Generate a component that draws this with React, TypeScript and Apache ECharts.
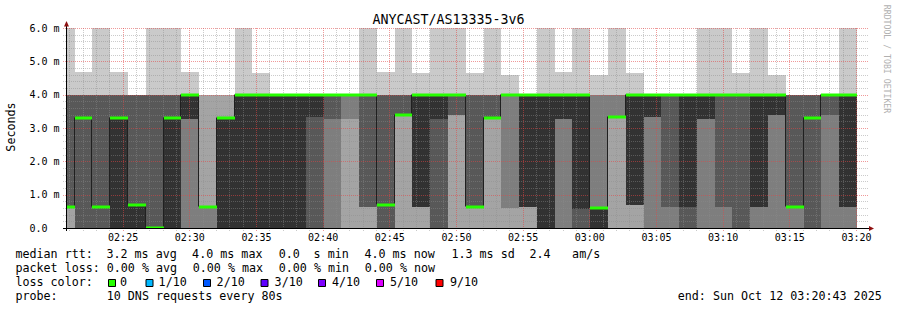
import React, { useEffect, useRef } from 'react';
import * as echarts from 'echarts';

const title = 'ANYCAST/AS13335-3v6';
const yAxisName = 'Seconds';
const watermark = 'RRDTOOL / TOBI OETIKER';

const stepSeconds = 80;
const firstColumnStart = '02:20:00';
const axisStart = '02:20:43';
const axisEnd = '03:20:43';
const majorGridStep = 300;
const minorGridStep = 60;

const xTickLabels = ['02:25', '02:30', '02:35', '02:40', '02:45', '02:50', '02:55', '03:00', '03:05', '03:10', '03:15', '03:20'];
const yTickLabels = ['0.0', '1.0 m', '2.0 m', '3.0 m', '4.0 m', '5.0 m', '6.0 m'];
const yMax = 6;

// sorted ping round-trip times (ms) per 80 s step, rank 1 (fastest) .. rank 10 (slowest)
const ping1 = [0, 0, 0, 0, 0, 0, 0, 0, 0, 0, 0, 0, 0, 0, 0, 0, 0, 0, 0, 0, 0, 0, 0, 0, 0, 0, 0, 0, 0, 0, 0, 0, 0, 0, 0, 0, 0, 0, 0, 0, 0, 0, 0, 0, 0];
const ping2 = [0, 0, 0, 0, 0, 0, 0, 0, 0, 0, 0, 0, 0, 0, 0, 0, 0, 0, 0, 0, 0, 0, 0, 0, 0, 0, 0, 0, 0, 0, 0, 0, 0, 0, 0, 0, 0, 0, 0, 0, 0, 0, 0, 0, 0];
const ping3 = [0.64, 0, 0, 0, 0, 0, 0, 0, 0, 0, 0, 0, 0, 0, 0, 0, 3.27, 0.64, 0, 3.39, 0.64, 0, 3.39, 0.64, 3.29, 0.59, 0.64, 0, 0, 0, 0, 3.32, 0.69, 0, 0, 0, 0, 0, 0, 0, 0, 0, 0, 0, 0];
const ping4 = [0.64, 0, 0, 0, 0, 0, 0, 3.27, 0.64, 0, 0, 0, 0, 0, 0, 3.27, 4, 0.64, 0, 3.39, 0.64, 0, 3.39, 0.64, 3.29, 4, 0.64, 0, 3.27, 0, 0, 3.32, 0.69, 3.34, 0.64, 0, 3.27, 0.64, 0, 0.64, 3.39, 0.64, 0, 3.39, 0.64];
const ping5 = [0.64, 3.29, 0.64, 0, 0, 0, 0, 3.27, 0.64, 0, 0, 0, 0, 0, 3.34, 4, 4, 4, 0.69, 3.39, 0.64, 3.27, 4, 0.64, 3.29, 4, 0.64, 0, 3.27, 0.57, 0, 3.32, 0.69, 3.34, 4, 0.64, 3.27, 4, 4, 0.64, 3.39, 0.64, 3.29, 4, 0.64];
const ping6 = [0.64, 3.29, 0.64, 3.29, 0.69, 0, 3.29, 4, 0.64, 3.29, 4, 4, 4, 4, 4, 4, 4, 4, 0.69, 3.39, 4, 4, 4, 0.64, 3.29, 4, 4, 4, 4, 4, 0.6, 3.32, 4, 4, 4, 4, 4, 4, 4, 4, 4, 0.64, 3.29, 4, 4];
const ping7 = [4, 4, 4, 4, 4, 4, 4, 4, 0.64, 3.29, 4, 4, 4, 4, 4, 4, 4, 4, 4, 4, 4, 4, 4, 4, 4, 4, 4, 4, 4, 4, 0.6, 3.32, 4, 4, 4, 4, 4, 4, 4, 4, 4, 4, 4, 4, 4];
const ping8 = [4, 4, 4, 4, 4, 4, 4, 4, 0.64, 3.29, 4, 4, 4, 4, 4, 4, 4, 4, 4, 4, 4, 4, 4, 4, 4, 4, 4, 4, 4, 4, 4, 4, 4, 4, 4, 4, 4, 4, 4, 4, 4, 4, 4, 4, 4];
const ping9 = [4, 4, 4, 4, 4, 4, 4, 4, 4, 4, 4, 4, 4, 4, 4, 4, 4, 4, 4, 4, 4, 4, 4, 4, 4, 4, 4, 4, 4, 4, 4, 4, 4, 4, 4, 4, 4, 4, 4, 4, 4, 4, 4, 4, 4];
const ping10 = [6.5, 4.69, 6.5, 4.69, 4, 6.5, 6.5, 4.69, 4, 4, 6.5, 4.64, 4, 4, 4, 4, 4, 6.5, 4.69, 6.5, 4.66, 6.5, 6.5, 4.66, 6.5, 4.59, 4, 6.5, 4.69, 6.5, 4.59, 6.5, 4.66, 4, 4, 4, 6.5, 6.5, 4.64, 6.5, 4.59, 4, 4, 4, 6.5];
const median = [0.64, 3.29, 0.64, 3.29, 0.69, 0, 3.29, 4, 0.64, 3.29, 4, 4, 4, 4, 4, 4, 4, 4, 0.69, 3.39, 4, 4, 4, 0.64, 3.29, 4, 4, 4, 4, 4, 0.6, 3.32, 4, 4, 4, 4, 4, 4, 4, 4, 4, 0.64, 3.29, 4, 4];
const lostPings = [0, 0, 0, 0, 0, 0, 0, 0, 0, 0, 0, 0, 0, 0, 0, 0, 0, 0, 0, 0, 0, 0, 0, 0, 0, 0, 0, 0, 0, 0, 0, 0, 0, 0, 0, 0, 0, 0, 0, 0, 0, 0, 0, 0, 0];

const lossLevels = [0, 1, 2, 3, 4, 5, 9];
const lossLabels = ['0', '1/10', '2/10', '3/10', '4/10', '5/10', '9/10'];
const lossColors = ['#26ff00', '#00b8ff', '#0059ff', '#5e00ff', '#7e00ff', '#dd00ff', '#ff0000'];
const smokeColors = ['#cacaca', '#a4a4a4', '#7e7e7e', '#585858', '#323232'];

const MONO = 'DejaVu Sans Mono';

const toSec = (s: string) => {
  const [h, m, sec] = s.split(':');
  return Number(h) * 3600 + Number(m) * 60 + Number(sec || 0);
};
const pad = (n: number) => (n < 10 ? '0' : '') + n;
const fmtTime = (v: number) => pad(Math.floor(v / 3600)) + ':' + pad(Math.floor((v % 3600) / 60));

const xMin = toSec(axisStart);
const xMax = toSec(axisEnd);
const t0 = toSec(firstColumnStart);
const xTickValues = xTickLabels.map(toSec);
const pings = [ping1, ping2, ping3, ping4, ping5, ping6, ping7, ping8, ping9, ping10];

const smokeData = median.map((_, k) => [t0 + k * stepSeconds, t0 + (k + 1) * stepSeconds, ...pings.map((p) => p[k])]);
const medianData = median.map((m, k) => [t0 + k * stepSeconds, t0 + (k + 1) * stepSeconds, m, k > 0 ? median[k - 1] : m]);
const lossData = median.map((m, k) => {
  let idx = 0;
  lossLevels.forEach((lv, i) => { if (lostPings[k] >= lv) idx = i; });
  return [t0 + k * stepSeconds, t0 + (k + 1) * stepSeconds, m, idx];
});

// grid lines: [x, y, orientation (0 vertical, 1 horizontal), major]
const gridData: number[][] = [];
for (let t = Math.ceil(xMin / minorGridStep) * minorGridStep; t <= xMax; t += minorGridStep) {
  gridData.push([t, 0, 0, t % majorGridStep === 0 ? 1 : 0]);
}
for (let j = 1; j <= yMax * 5; j++) gridData.push([xMin, j / 5, 1, j % 5 === 0 ? 1 : 0]);

const pxCol = (api: any, t: number) => Math.ceil(api.coord([Math.min(Math.max(t, xMin), xMax), 0])[0] - 1e-6);

const gridSeries = (name: string, major: number, stroke: string) => ({
  type: 'custom',
  name,
  z: 3,
  silent: true,
  data: gridData.filter((d) => d[3] === major),
  encode: { x: 0, y: 1 },
  renderItem: (params: any, api: any) => {
    const cs = params.coordSys;
    const style = { stroke, lineWidth: 1, lineDash: [1, 1] };
    if (api.value(2) === 0) {
      const x = Math.floor(api.coord([api.value(0), 0])[0]) + 0.5;
      return { type: 'line', shape: { x1: x, y1: cs.y, x2: x, y2: cs.y + cs.height + 3 }, style };
    }
    const y = Math.round(api.coord([xMin, api.value(1)])[1]) + 0.5;
    return { type: 'line', shape: { x1: cs.x - 3, y1: y, x2: cs.x + cs.width + 3, y2: y }, style };
  },
});

const option: any = {
  animation: false,
  backgroundColor: '#ffffff',
  grid: { left: 66, top: 28, width: 800, height: 200, containLabel: false },
  xAxis: {
    type: 'value',
    min: xMin,
    max: xMax,
    axisLine: { show: false },
    axisTick: { show: false },
    splitLine: { show: false },
    axisLabel: {
      customValues: xTickValues,
      formatter: (v: number) => {
        const i = xTickValues.indexOf(v);
        return i >= 0 ? xTickLabels[i] : fmtTime(v);
      },
      fontFamily: MONO,
      fontSize: 10,
      color: '#000',
      margin: 4,
    },
  },
  yAxis: {
    type: 'value',
    min: 0,
    max: yMax,
    interval: 1,
    axisLine: { show: false },
    axisTick: { show: false },
    splitLine: { show: false },
    axisLabel: {
      formatter: (v: number) => yTickLabels[Math.round(v)] ?? String(v),
      fontFamily: MONO,
      fontSize: 10,
      color: '#000',
      align: 'left',
      margin: 36.6,
    },
  },
  graphic: [
    { type: 'text', x: 448.5, y: 19.7, style: { text: title, fill: '#000', fontFamily: MONO, fontSize: 13.3, align: 'center', verticalAlign: 'middle' } },
    { type: 'text', x: 10.5, y: 127, rotation: Math.PI / 2, style: { text: yAxisName, fill: '#000', fontFamily: MONO, fontSize: 11.7, align: 'center', verticalAlign: 'middle' } },
    { type: 'text', x: 887, y: 59, rotation: -Math.PI / 2, style: { text: watermark, fill: '#b0b0b0', fontFamily: MONO, fontSize: 8.2, align: 'center', verticalAlign: 'middle' } },
    ...([
      ['median rtt:', 15.4, 254.3], ['3.2 ms avg', 106.4, 254.3], ['4.0 ms max', 192.1, 254.3], ['0.0', 278.7, 254.3], ['s min', 313.6, 254.3],
      ['4.0 ms now', 364.4, 254.3], ['1.3 ms sd', 451.4, 254.3], ['2.4', 529.4, 254.3], ['am/s', 572.1, 254.3],
      ['packet loss:', 15.4, 268.3], ['0.00 % avg', 106.7, 268.3], ['0.00 % max', 192.7, 268.3], ['0.00 % min', 278.7, 268.3], ['0.00 % now', 364.7, 268.3],
      ['loss color:', 15.4, 282.2],
      ['probe:', 15.4, 296.2], ['10 DNS requests every 80s', 106.7, 296.2],
      ['end: Sun Oct 12 03:20:43 2025', 677.7, 296.2],
    ] as [string, number, number][]).map(([text, x, y]) => ({
      type: 'text', x, y, style: { text, fill: '#000', fontFamily: MONO, fontSize: 11.7, align: 'left', verticalAlign: 'middle' },
    })),
    ...lossLabels.map((lab, i) => {
      const boxX = [108.5, 146, 203.5, 261, 318.5, 376.5, 436][i];
      const txtX = [120, 158.6, 216.6, 274.6, 332, 390, 450][i];
      return [
        { type: 'rect', shape: { x: boxX, y: 279.5, width: 7, height: 7 }, style: { fill: lossColors[i], stroke: '#000', lineWidth: 1 } },
        { type: 'text', x: txtX, y: 282.2, style: { text: lab, fill: '#000', fontFamily: MONO, fontSize: 11.7, align: 'left', verticalAlign: 'middle' } },
      ];
    }).flat(),
  ],
  series: [
    {
      type: 'custom',
      name: 'smoke',
      z: 2,
      data: smokeData,
      encode: { x: [0, 1], y: [2, 3, 4, 5, 6, 7, 8, 9, 10, 11] },
      renderItem: (params: any, api: any) => {
        const xa = pxCol(api, api.value(0));
        const xb = pxCol(api, api.value(1));
        const children: any[] = [];
        for (let i = 0; i < 5; i++) {
          const lo = Math.min(api.value(2 + i), yMax);
          const hi = Math.min(api.value(11 - i), yMax);
          if (hi <= lo) continue;
          const ya = Math.round(api.coord([xMin, hi])[1]);
          const yb = Math.round(api.coord([xMin, lo])[1]);
          children.push({ type: 'rect', shape: { x: xa, y: ya, width: xb - xa, height: yb - ya }, style: { fill: smokeColors[i] } });
        }
        return { type: 'group', children };
      },
    },
    gridSeries('grid minor', 0, 'rgba(140,140,140,0.45)'),
    gridSeries('grid major', 1, 'rgba(225,70,70,0.55)'),
    {
      type: 'custom',
      name: 'median line',
      z: 4,
      data: medianData,
      encode: { x: [0, 1], y: 2 },
      renderItem: (params: any, api: any) => {
        const x0 = pxCol(api, api.value(0));
        const x1 = pxCol(api, api.value(1));
        const y = Math.round(api.coord([xMin, api.value(2)])[1]) - 0.5;
        const yp = Math.round(api.coord([xMin, api.value(3)])[1]) - 0.5;
        const style = { stroke: '#202020', lineWidth: 1 };
        const children: any[] = [{ type: 'line', shape: { x1: x0, y1: y, x2: x1, y2: y }, style }];
        if (yp !== y) children.push({ type: 'line', shape: { x1: x0 - 0.5, y1: yp, x2: x0 - 0.5, y2: y }, style });
        return { type: 'group', children };
      },
    },
    {
      type: 'custom',
      name: 'median',
      z: 5,
      data: lossData,
      encode: { x: [0, 1], y: 2 },
      renderItem: (params: any, api: any) => {
        const cs = params.coordSys;
        const x0 = pxCol(api, api.value(0));
        const x1 = pxCol(api, api.value(1));
        const y = Math.round(api.coord([xMin, api.value(2)])[1]);
        const top = y - 1.5;
        const bottom = Math.min(y + 1.5, cs.y + cs.height);
        return { type: 'rect', shape: { x: x0, y: top, width: x1 - x0, height: bottom - top }, style: { fill: lossColors[api.value(3)] } };
      },
    },
    {
      type: 'custom',
      name: 'frame',
      z: 6,
      data: [[xMin, 0]],
      encode: { x: 0, y: 1 },
      renderItem: (params: any) => {
        const cs = params.coordSys;
        const bottom = cs.y + cs.height;
        const left = cs.x;
        const right = cs.x + cs.width;
        return {
          type: 'group',
          children: [
            { type: 'line', shape: { x1: left - 3, y1: bottom + 0.5, x2: right + 4, y2: bottom + 0.5 }, style: { stroke: '#000', lineWidth: 1 } },
            { type: 'line', shape: { x1: left + 0.5, y1: bottom + 3, x2: left + 0.5, y2: cs.y - 4 }, style: { stroke: '#000', lineWidth: 1 } },
            { type: 'polygon', shape: { points: [[left - 2, cs.y - 1.5], [left + 3, cs.y - 1.5], [left + 0.5, cs.y - 7]] }, style: { fill: '#8f1010' } },
            { type: 'polygon', shape: { points: [[right + 3, bottom - 2], [right + 3, bottom + 3], [right + 8, bottom + 0.5]] }, style: { fill: '#8f1010' } },
          ],
        };
      },
    },
  ],
};

export default function App() {
  const ref = useRef<HTMLDivElement>(null);
  useEffect(() => {
    document.body.style.margin = '0';
    const chart = echarts.init(ref.current as HTMLDivElement, null, { renderer: 'svg', width: 897, height: 310 });
    chart.setOption(option);
    return () => chart.dispose();
  }, []);
  return <div ref={ref} style={{ width: 897, height: 310, position: 'absolute', left: 0, top: 0, background: '#fff' }} />;
}
